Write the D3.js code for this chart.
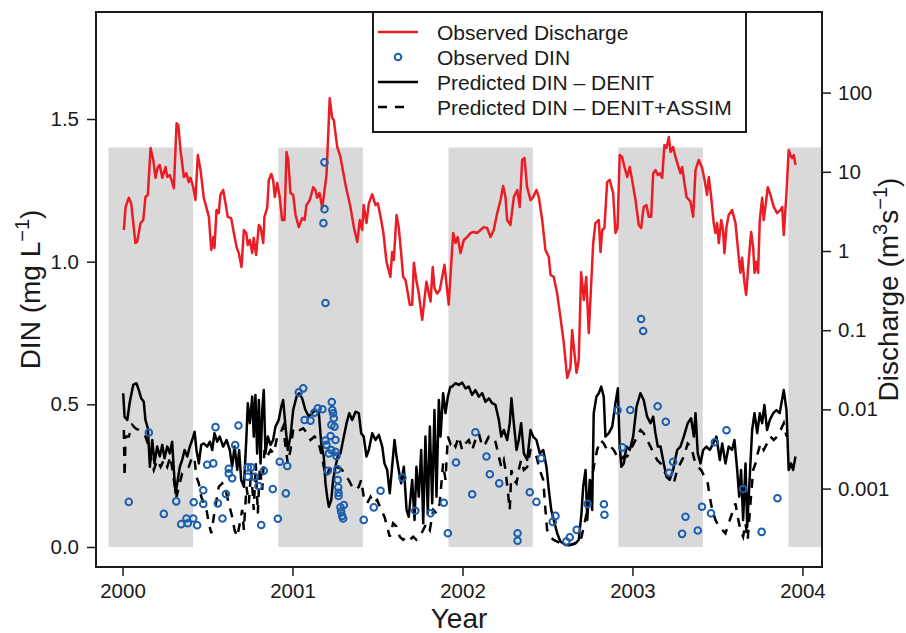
<!DOCTYPE html>
<html>
<head>
<meta charset="utf-8">
<script src="https://cdn.jsdelivr.net/npm/d3@7"></script>
<style>
  body { margin: 0; background: #fff; }
  svg { font-family: 'Liberation Sans', Arial, Helvetica, sans-serif; }
</style>
</head>
<body>
<div id="chart"></div>
<script>
// winter/spring periods (Dec 1 - Jun 1), decimal years
const bandStart = [1999.917, 2000.917, 2001.917, 2002.917, 2003.917]
const bandEnd = [2000.415, 2001.414, 2002.414, 2003.414, 2004.415]

const yearTicks = [2000, 2001, 2002, 2003, 2004]
const dinTicks = [0, 0.5, 1.0, 1.5]
const qTicks = [0.001, 0.01, 0.1, 1, 10, 100]

// observed discharge, m3/s  [year, Q]
const discharge = [
  [2000.008,1.84],[2000.018,3.6],[2000.037,4.7],[2000.051,4.0],[2000.076,1.26],[2000.086,1.3],[2000.106,2.25],[2000.122,2.46],
  [2000.135,4.8],[2000.149,5.1],[2000.165,20],[2000.181,14.1],[2000.194,8.4],[2000.208,11.5],[2000.219,12.2],[2000.234,8.4],
  [2000.253,11.5],[2000.263,8.6],[2000.278,9.1],[2000.288,7.9],[2000.302,6.2],[2000.318,41],[2000.328,39],[2000.341,18.8],
  [2000.361,8.6],[2000.376,9.6],[2000.39,7.4],[2000.40,8.4],[2000.416,6.4],[2000.429,4.4],[2000.443,16.3],[2000.459,10.5],
  [2000.478,4.7],[2000.494,3.5],[2000.508,2.7],[2000.522,1.03],[2000.534,1.5],[2000.541,1.09],[2000.553,3.3],[2000.566,3.0],
  [2000.576,5.1],[2000.592,5.9],[2000.606,4.0],[2000.619,2.7],[2000.639,2.6],[2000.655,1.69],[2000.671,1.12],[2000.684,0.94],
  [2000.70,0.63],[2000.714,1.84],[2000.728,1.69],[2000.737,1.19],[2000.749,1.38],[2000.763,0.94],[2000.772,1.46],[2000.786,0.89],
  [2000.802,2.13],[2000.812,2.0],[2000.828,1.26],[2000.835,2.7],[2000.851,3.5],[2000.861,7.9],[2000.875,9.4],[2000.886,7.9],
  [2000.896,4.8],[2000.91,7.2],[2000.925,4.8],[2000.939,2.46],[2000.953,2.46],[2000.965,17.8],[2000.975,14.1],[2000.988,5.4],
  [2001.004,5.1],[2001.018,2.85],[2001.037,2.0],[2001.057,2.6],[2001.071,2.46],[2001.082,3.8],[2001.102,4.4],[2001.122,6.4],
  [2001.135,5.9],[2001.145,4.7],[2001.159,5.4],[2001.175,3.5],[2001.2,9.1],[2001.219,85],[2001.233,48],[2001.243,45],
  [2001.263,20.6],[2001.282,15.4],[2001.312,6.8],[2001.341,3.6],[2001.361,2.0],[2001.381,1.3],[2001.396,2.46],[2001.41,1.84],
  [2001.419,3.8],[2001.435,2.25],[2001.449,4.0],[2001.469,5.2],[2001.488,3.8],[2001.502,4.0],[2001.518,2.7],[2001.534,1.74],
  [2001.553,0.73],[2001.576,0.47],[2001.586,0.97],[2001.596,0.77],[2001.612,2.85],[2001.625,2.0],[2001.639,0.94],[2001.651,0.47],
  [2001.665,0.43],[2001.69,0.21],[2001.704,0.21],[2001.714,0.71],[2001.728,0.43],[2001.743,0.29],[2001.763,0.135],[2001.788,0.41],
  [2001.802,0.29],[2001.812,0.23],[2001.825,0.63],[2001.835,0.34],[2001.851,0.29],[2001.866,0.32],[2001.894,0.67],[2001.919,0.21],
  [2001.929,0.47],[2001.945,1.69],[2001.959,1.26],[2001.972,1.5],[2001.988,0.94],[2002.008,1.38],[2002.028,1.5],[2002.047,1.69],
  [2002.066,1.74],[2002.086,1.69],[2002.106,1.84],[2002.125,2.0],[2002.145,1.95],[2002.165,1.5],[2002.184,1.84],[2002.204,3.0],
  [2002.224,4.4],[2002.239,6.6],[2002.253,4.8],[2002.263,2.46],[2002.282,2.13],[2002.302,4.8],[2002.322,5.9],[2002.337,3.6],
  [2002.351,14.1],[2002.365,14.9],[2002.38,6.4],[2002.40,4.4],[2002.416,4.8],[2002.435,5.9],[2002.449,4.8],[2002.469,2.46],
  [2002.488,1.03],[2002.508,0.84],[2002.518,0.5],[2002.537,0.47],[2002.557,0.29],[2002.576,0.147],[2002.596,0.069],[2002.616,0.025],
  [2002.635,0.034],[2002.645,0.1],[2002.655,0.061],[2002.671,0.029],[2002.684,0.042],[2002.698,0.54],[2002.714,0.24],[2002.728,0.47],
  [2002.743,0.092],[2002.769,1.26],[2002.782,2.25],[2002.802,2.46],[2002.812,0.97],[2002.822,1.84],[2002.835,1.95],[2002.851,7.4],
  [2002.866,7.9],[2002.886,5.4],[2002.90,1.69],[2002.912,1.95],[2002.925,16.3],[2002.939,15.4],[2002.953,11.5],[2002.969,8.6],
  [2002.984,11.5],[2002.998,7.9],[2003.018,4.4],[2003.037,2.13],[2003.051,1.95],[2003.066,3.6],[2003.082,3.8],[2003.096,2.7],
  [2003.11,2.7],[2003.122,9.6],[2003.135,10.5],[2003.149,9.1],[2003.16,9.6],[2003.175,8.4],[2003.188,21.8],[2003.2,20],
  [2003.214,27.5],[2003.224,17.8],[2003.239,20.6],[2003.253,15.4],[2003.267,12.2],[2003.282,9.6],[2003.292,11.5],[2003.306,7.2],
  [2003.318,4.8],[2003.341,4.2],[2003.357,2.7],[2003.371,10.5],[2003.39,14.1],[2003.41,11.2],[2003.424,7.9],[2003.439,5.1],
  [2003.449,8.6],[2003.463,4.8],[2003.478,2.25],[2003.488,1.69],[2003.498,2.25],[2003.508,1.26],[2003.522,2.46],[2003.533,1.84],
  [2003.541,0.94],[2003.553,2.0],[2003.566,2.85],[2003.586,3.3],[2003.606,2.25],[2003.625,0.84],[2003.635,0.53],[2003.645,0.82],
  [2003.659,0.39],[2003.669,0.28],[2003.684,0.77],[2003.698,1.74],[2003.71,1.12],[2003.718,0.53],[2003.729,0.73],[2003.739,0.53],
  [2003.749,2.46],[2003.763,4.7],[2003.772,2.46],[2003.782,3.6],[2003.796,6.4],[2003.812,5.1],[2003.831,3.6],[2003.851,3.0],
  [2003.871,3.3],[2003.881,3.6],[2003.89,1.59],[2003.906,5.4],[2003.919,18.8],[2003.929,16.3],[2003.939,14.9],[2003.949,16.3],
  [2003.959,12.2]
]

// predicted DIN, mg/L  [year, DIN]
const denit = [
  [2000.004,0.539],[2000.012,0.457],[2000.028,0.445],[2000.043,0.509],[2000.063,0.568],[2000.082,0.574],[2000.096,0.55],[2000.11,0.521],
  [2000.125,0.509],[2000.135,0.445],[2000.149,0.416],[2000.161,0.281],[2000.175,0.375],[2000.188,0.293],[2000.204,0.352],[2000.219,0.317],
  [2000.234,0.358],[2000.247,0.311],[2000.263,0.352],[2000.278,0.328],[2000.292,0.369],[2000.302,0.27],[2000.312,0.188],[2000.325,0.235],
  [2000.337,0.281],[2000.351,0.305],[2000.365,0.34],[2000.381,0.317],[2000.396,0.352],[2000.41,0.375],[2000.424,0.404],[2000.435,0.34],
  [2000.449,0.293],[2000.463,0.358],[2000.478,0.363],[2000.498,0.352],[2000.514,0.369],[2000.528,0.34],[2000.541,0.399],[2000.557,0.369],
  [2000.572,0.387],[2000.592,0.352],[2000.612,0.375],[2000.631,0.34],[2000.645,0.281],[2000.659,0.352],[2000.675,0.27],[2000.686,0.34],
  [2000.698,0.235],[2000.714,0.211],[2000.729,0.387],[2000.737,0.504],[2000.749,0.434],[2000.763,0.527],[2000.772,0.387],[2000.782,0.533],
  [2000.792,0.328],[2000.802,0.515],[2000.812,0.293],[2000.822,0.48],[2000.831,0.55],[2000.841,0.328],[2000.855,0.387],[2000.871,0.358],
  [2000.886,0.375],[2000.90,0.422],[2000.919,0.445],[2000.934,0.492],[2000.945,0.515],[2000.959,0.422],[2000.972,0.34],[2000.988,0.387],
  [2001.004,0.48],[2001.024,0.527],[2001.039,0.539],[2001.057,0.521],[2001.076,0.48],[2001.096,0.457],[2001.116,0.469],[2001.135,0.48],
  [2001.155,0.469],[2001.169,0.363],[2001.184,0.317],[2001.194,0.223],[2001.204,0.176],[2001.214,0.141],[2001.228,0.165],[2001.239,0.235],
  [2001.253,0.281],[2001.266,0.317],[2001.282,0.328],[2001.302,0.387],[2001.318,0.434],[2001.334,0.469],[2001.351,0.445],[2001.371,0.474],
  [2001.39,0.469],[2001.404,0.399],[2001.419,0.387],[2001.435,0.317],[2001.449,0.34],[2001.469,0.399],[2001.488,0.375],[2001.508,0.393],
  [2001.528,0.352],[2001.541,0.293],[2001.557,0.27],[2001.572,0.188],[2001.586,0.281],[2001.60,0.375],[2001.612,0.317],[2001.625,0.27],
  [2001.639,0.223],[2001.655,0.281],[2001.671,0.13],[2001.684,0.106],[2001.704,0.235],[2001.718,0.095],[2001.729,0.281],[2001.743,0.176],
  [2001.757,0.34],[2001.769,0.083],[2001.782,0.387],[2001.796,0.118],[2001.808,0.422],[2001.822,0.153],[2001.835,0.48],[2001.847,0.176],
  [2001.861,0.515],[2001.871,0.387],[2001.886,0.539],[2001.90,0.469],[2001.914,0.527],[2001.929,0.562],[2001.939,0.562],[2001.959,0.574],
  [2001.978,0.568],[2001.998,0.576],[2002.018,0.556],[2002.037,0.562],[2002.057,0.533],[2002.076,0.55],[2002.096,0.527],[2002.116,0.539],
  [2002.135,0.509],[2002.155,0.521],[2002.175,0.504],[2002.194,0.498],[2002.214,0.445],[2002.228,0.387],[2002.243,0.41],[2002.263,0.375],
  [2002.278,0.434],[2002.288,0.521],[2002.302,0.434],[2002.318,0.34],[2002.331,0.375],[2002.345,0.434],[2002.361,0.328],[2002.381,0.305],
  [2002.40,0.41],[2002.416,0.387],[2002.435,0.375],[2002.455,0.328],[2002.475,0.34],[2002.494,0.281],[2002.508,0.2],[2002.522,0.13],
  [2002.537,0.095],[2002.557,0.048],[2002.576,0.019],[2002.606,0.007],[2002.635,0.007],[2002.665,0.013],[2002.684,0.025],[2002.70,0.118],
  [2002.71,0.211],[2002.724,0.27],[2002.734,0.095],[2002.749,0.235],[2002.763,0.13],[2002.772,0.469],[2002.788,0.527],[2002.802,0.539],
  [2002.816,0.562],[2002.831,0.527],[2002.841,0.387],[2002.861,0.399],[2002.881,0.422],[2002.90,0.504],[2002.914,0.556],[2002.925,0.352],
  [2002.935,0.281],[2002.949,0.293],[2002.965,0.352],[2002.984,0.34],[2003.004,0.387],[2003.024,0.492],[2003.047,0.539],[2003.066,0.515],
  [2003.086,0.457],[2003.106,0.434],[2003.122,0.457],[2003.135,0.399],[2003.149,0.352],[2003.165,0.352],[2003.184,0.293],[2003.20,0.246],
  [2003.219,0.235],[2003.239,0.27],[2003.263,0.34],[2003.282,0.352],[2003.302,0.387],[2003.325,0.434],[2003.345,0.451],[2003.361,0.387],
  [2003.371,0.469],[2003.384,0.328],[2003.40,0.293],[2003.416,0.34],[2003.435,0.352],[2003.455,0.34],[2003.475,0.363],[2003.494,0.387],
  [2003.514,0.305],[2003.528,0.363],[2003.547,0.293],[2003.566,0.352],[2003.586,0.34],[2003.60,0.375],[2003.616,0.27],[2003.628,0.176],
  [2003.639,0.27],[2003.651,0.095],[2003.665,0.293],[2003.675,0.071],[2003.69,0.246],[2003.704,0.41],[2003.718,0.469],[2003.734,0.399],
  [2003.749,0.469],[2003.763,0.434],[2003.776,0.498],[2003.792,0.41],[2003.808,0.445],[2003.828,0.469],[2003.847,0.48],[2003.866,0.469],
  [2003.89,0.55],[2003.906,0.48],[2003.919,0.27],[2003.933,0.293],[2003.945,0.27],[2003.959,0.317]
]

const denitAssim = [
  [2000.008,0.41],[2000.012,0.246],[2000.018,0.387],[2000.037,0.387],[2000.057,0.428],[2000.076,0.416],[2000.096,0.41],[2000.116,0.399],
  [2000.135,0.387],[2000.155,0.352],[2000.169,0.305],[2000.184,0.27],[2000.204,0.305],[2000.224,0.281],[2000.243,0.305],[2000.263,0.281],
  [2000.282,0.317],[2000.302,0.235],[2000.318,0.176],[2000.331,0.211],[2000.351,0.258],[2000.371,0.27],[2000.39,0.281],[2000.41,0.317],
  [2000.424,0.305],[2000.435,0.246],[2000.449,0.223],[2000.463,0.176],[2000.478,0.153],[2000.494,0.13],[2000.508,0.083],[2000.522,0.048],
  [2000.537,0.106],[2000.553,0.165],[2000.566,0.211],[2000.586,0.223],[2000.606,0.2],[2000.625,0.153],[2000.645,0.106],[2000.659,0.06],
  [2000.675,0.036],[2000.69,0.083],[2000.704,0.13],[2000.714,0.06],[2000.729,0.211],[2000.743,0.153],[2000.757,0.27],[2000.772,0.13],
  [2000.784,0.293],[2000.796,0.118],[2000.808,0.281],[2000.822,0.2],[2000.835,0.34],[2000.851,0.317],[2000.871,0.34],[2000.89,0.328],
  [2000.91,0.387],[2000.929,0.399],[2000.945,0.422],[2000.959,0.352],[2000.972,0.293],[2000.988,0.34],[2001.004,0.41],[2001.024,0.422],
  [2001.043,0.41],[2001.063,0.416],[2001.086,0.399],[2001.106,0.375],[2001.129,0.387],[2001.149,0.375],[2001.169,0.328],[2001.184,0.281],
  [2001.20,0.246],[2001.214,0.27],[2001.234,0.281],[2001.253,0.27],[2001.272,0.281],[2001.292,0.27],[2001.312,0.246],[2001.331,0.235],
  [2001.351,0.211],[2001.371,0.2],[2001.39,0.211],[2001.404,0.235],[2001.419,0.176],[2001.439,0.153],[2001.459,0.176],[2001.478,0.153],
  [2001.498,0.165],[2001.522,0.13],[2001.541,0.106],[2001.557,0.071],[2001.572,0.036],[2001.592,0.083],[2001.612,0.071],[2001.631,0.036],
  [2001.651,0.025],[2001.671,0.036],[2001.69,0.025],[2001.71,0.036],[2001.729,0.025],[2001.749,0.036],[2001.769,0.06],[2001.788,0.083],
  [2001.808,0.06],[2001.828,0.13],[2001.847,0.118],[2001.866,0.153],[2001.886,0.293],[2001.90,0.235],[2001.914,0.387],[2001.929,0.363],
  [2001.939,0.375],[2001.959,0.352],[2001.978,0.387],[2001.998,0.34],[2002.018,0.363],[2002.037,0.375],[2002.057,0.34],[2002.076,0.375],
  [2002.096,0.399],[2002.116,0.352],[2002.135,0.363],[2002.155,0.387],[2002.175,0.387],[2002.194,0.369],[2002.214,0.317],[2002.228,0.281],
  [2002.243,0.305],[2002.253,0.27],[2002.266,0.2],[2002.278,0.13],[2002.288,0.27],[2002.302,0.235],[2002.318,0.223],[2002.331,0.27],
  [2002.345,0.305],[2002.361,0.27],[2002.381,0.281],[2002.40,0.34],[2002.416,0.34],[2002.435,0.317],[2002.455,0.27],[2002.475,0.235],
  [2002.488,0.13],[2002.498,0.06],[2002.514,0.036],[2002.537,0.025],[2002.557,0.019],[2002.576,0.013],[2002.606,0.007],[2002.635,0.007],
  [2002.665,0.013],[2002.694,0.019],[2002.714,0.071],[2002.734,0.13],[2002.749,0.176],[2002.763,0.246],[2002.776,0.293],[2002.792,0.34],
  [2002.812,0.375],[2002.831,0.363],[2002.851,0.34],[2002.871,0.352],[2002.89,0.34],[2002.91,0.317],[2002.929,0.305],[2002.949,0.317],
  [2002.969,0.317],[2002.988,0.34],[2003.008,0.363],[2003.027,0.387],[2003.047,0.41],[2003.066,0.399],[2003.086,0.375],[2003.106,0.352],
  [2003.125,0.328],[2003.145,0.305],[2003.165,0.293],[2003.184,0.27],[2003.204,0.246],[2003.224,0.235],[2003.243,0.223],[2003.263,0.27],
  [2003.282,0.293],[2003.302,0.317],[2003.325,0.363],[2003.345,0.352],[2003.365,0.305],[2003.384,0.281],[2003.404,0.27],[2003.424,0.246],
  [2003.443,0.223],[2003.455,0.176],[2003.469,0.13],[2003.488,0.095],[2003.508,0.071],[2003.528,0.06],[2003.547,0.048],[2003.566,0.083],
  [2003.586,0.118],[2003.606,0.153],[2003.619,0.106],[2003.635,0.06],[2003.651,0.036],[2003.665,0.083],[2003.678,0.025],[2003.694,0.153],
  [2003.71,0.27],[2003.724,0.293],[2003.737,0.328],[2003.753,0.363],[2003.772,0.34],[2003.792,0.363],[2003.812,0.387],[2003.831,0.375],
  [2003.851,0.387],[2003.871,0.41],[2003.89,0.434],[2003.906,0.387]
]

// observed DIN samples, mg/L  [year, DIN]
const observed = [
  [2000.037,0.158],[2000.155,0.401],[2000.243,0.116],[2000.316,0.16],[2000.345,0.08],[2000.376,0.1],[2000.384,0.083],[2000.416,0.1],
  [2000.419,0.157],[2000.439,0.076],[2000.475,0.151],[2000.475,0.199],[2000.498,0.288],[2000.534,0.293],[2000.547,0.42],[2000.561,0.153],
  [2000.588,0.1],[2000.608,0.186],[2000.625,0.274],[2000.625,0.258],[2000.645,0.241],[2000.663,0.357],[2000.682,0.426],[2000.737,0.279],
  [2000.757,0.279],[2000.737,0.246],[2000.776,0.246],[2000.80,0.214],[2000.816,0.077],[2000.831,0.267],[2000.884,0.203],[2000.914,0.099],
  [2000.925,0.299],[2000.961,0.188],[2000.969,0.284],[2001.037,0.542],[2001.063,0.556],[2001.071,0.445],[2001.106,0.443],[2001.129,0.471],
  [2001.149,0.486],[2001.176,0.483],[2001.188,1.348],[2001.188,1.184],[2001.182,1.135],[2001.194,0.855],[2001.231,0.508],[2001.234,0.48],
  [2001.239,0.469],[2001.243,0.451],[2001.229,0.428],[2001.247,0.422],[2001.224,0.389],[2001.253,0.375],[2001.194,0.373],[2001.20,0.358],
  [2001.228,0.34],[2001.214,0.328],[2001.253,0.334],[2001.259,0.319],[2001.208,0.267],[2001.263,0.272],[2001.266,0.235],[2001.269,0.209],
  [2001.271,0.19],[2001.271,0.179],[2001.282,0.139],[2001.302,0.147],[2001.286,0.124],[2001.292,0.109],[2001.298,0.1],[2001.419,0.095],
  [2001.478,0.139],[2001.518,0.197],[2001.647,0.243],[2001.722,0.127],[2001.812,0.118],[2001.89,0.155],[2001.914,0.048],[2001.962,0.296],
  [2002.057,0.185],[2002.076,0.402],[2002.141,0.317],[2002.161,0.255],[2002.216,0.223],[2002.324,0.048],[2002.324,0.022],[2002.396,0.192],
  [2002.435,0.158],[2002.463,0.311],[2002.531,0.088],[2002.547,0.109],[2002.611,0.019],[2002.631,0.034],[2002.672,0.06],[2002.736,0.151],
  [2002.832,0.15],[2002.835,0.113],[2002.912,0.479],[2002.941,0.349],[2002.987,0.48],[2003.051,0.799],[2003.063,0.757],[2003.148,0.493],
  [2003.196,0.439],[2003.216,0.26],[2003.239,0.299],[2003.292,0.046],[2003.312,0.106],[2003.384,0.058],[2003.409,0.141],[2003.462,0.118],
  [2003.484,0.367],[2003.553,0.409],[2003.651,0.203],[2003.76,0.053],[2003.853,0.171]
]

const legendItems = ['Observed Discharge', 'Observed DIN', 'Predicted DIN \u2013 DENIT', 'Predicted DIN \u2013 DENIT+ASSIM']

const width = 906
const height = 633
const [plotLeft, plotRight, plotTop, plotBottom] = [96, 822, 12, 567]

const red = '#ec1c24'
const blue = '#1c5fae'
const ink = '#1a1a1a'

const svg = d3.select('#chart')
  .append('svg')
  .attr('width', width)
  .attr('height', height)

const x = d3.scaleLinear().domain([1999.844, 2004.115]).range([plotLeft, plotRight])
const yDin = d3.scaleLinear().domain([-0.0701, 1.875]).range([plotBottom, plotTop])
const yQ = d3.scaleLog().domain([1.023e-4, 1042]).range([plotBottom, plotTop])

svg.append('clipPath')
  .attr('id', 'plot-clip')
  .append('rect')
  .attr('x', plotLeft)
  .attr('y', plotTop)
  .attr('width', plotRight - plotLeft)
  .attr('height', plotBottom - plotTop)

const plot = svg.append('g').attr('clip-path', 'url(#plot-clip)')

// shaded periods
plot.append('g').selectAll('rect')
  .data(bandStart)
  .join('rect')
  .attr('x', d => x(d))
  .attr('width', (d, i) => x(bandEnd[i]) - x(d))
  .attr('y', yDin(1.4))
  .attr('height', yDin(0) - yDin(1.4))
  .attr('fill', '#d9d9d9')

const qLine = d3.line().x(d => x(d[0])).y(d => yQ(d[1]))
const dinLine = d3.line().x(d => x(d[0])).y(d => yDin(d[1]))

plot.append('path')
  .datum(discharge)
  .attr('d', qLine)
  .attr('fill', 'none')
  .attr('stroke', red)
  .attr('stroke-width', 2.5)
  .attr('stroke-linejoin', 'round')

plot.append('path')
  .datum(denitAssim)
  .attr('d', dinLine)
  .attr('fill', 'none')
  .attr('stroke', '#000')
  .attr('stroke-width', 2.5)
  .attr('stroke-dasharray', '9,8')

plot.append('path')
  .datum(denit)
  .attr('d', dinLine)
  .attr('fill', 'none')
  .attr('stroke', '#000')
  .attr('stroke-width', 2.5)
  .attr('stroke-linejoin', 'round')

plot.append('g').selectAll('circle')
  .data(observed)
  .join('circle')
  .attr('cx', d => x(d[0]))
  .attr('cy', d => yDin(d[1]))
  .attr('r', 3.3)
  .attr('fill', 'none')
  .attr('stroke', blue)
  .attr('stroke-width', 2)

// axes
const styleAxis = (g, size) => {
  g.select('.domain').remove()
  g.selectAll('.tick line').attr('stroke', ink).attr('stroke-width', 1.5)
  g.selectAll('.tick text')
    .attr('fill', ink)
    .style('font-size', `${size}px`)
    .style('font-family', "'Liberation Sans', Arial, sans-serif")
}

svg.append('g')
  .attr('transform', `translate(${plotLeft},0)`)
  .call(d3.axisLeft(yDin).tickValues(dinTicks).tickFormat(d3.format('.1f')).tickSize(9).tickPadding(8))
  .call(g => styleAxis(g, 20.5))

svg.append('g')
  .attr('transform', `translate(${plotRight},0)`)
  .call(d3.axisRight(yQ).tickValues(qTicks).tickFormat(d => String(d)).tickSize(9).tickPadding(7))
  .call(g => styleAxis(g, 20.5))

svg.append('g')
  .attr('transform', `translate(0,${plotBottom})`)
  .call(d3.axisBottom(x).tickValues(yearTicks).tickFormat(d3.format('d')).tickSize(9).tickPadding(7))
  .call(g => styleAxis(g, 20.5))

// frame
svg.append('rect')
  .attr('x', plotLeft)
  .attr('y', plotTop)
  .attr('width', plotRight - plotLeft)
  .attr('height', plotBottom - plotTop)
  .attr('fill', 'none')
  .attr('stroke', ink)
  .attr('stroke-width', 2)

// axis titles
svg.append('text')
  .attr('x', (plotLeft + plotRight) / 2)
  .attr('y', 628)
  .attr('text-anchor', 'middle')
  .attr('fill', ink)
  .style('font-size', '28px')
  .text('Year')

const leftTitle = svg.append('text')
  .attr('transform', `translate(40,${(plotTop + plotBottom) / 2}) rotate(-90)`)
  .attr('text-anchor', 'middle')
  .attr('fill', ink)
  .style('font-size', '28px')
leftTitle.append('tspan').text('DIN (mg L')
leftTitle.append('tspan').attr('dy', -11).style('font-size', '20px').text('\u22121')
leftTitle.append('tspan').attr('dy', 11).text(')')

const rightTitle = svg.append('text')
  .attr('transform', `translate(898,${(plotTop + plotBottom) / 2}) rotate(-90)`)
  .attr('text-anchor', 'middle')
  .attr('fill', ink)
  .style('font-size', '28px')
rightTitle.append('tspan').text('Discharge (m')
rightTitle.append('tspan').attr('dy', -11).style('font-size', '20px').text('3')
rightTitle.append('tspan').attr('dy', 11).text('s')
rightTitle.append('tspan').attr('dy', -11).style('font-size', '20px').text('\u22121')
rightTitle.append('tspan').attr('dy', 11).text(')')

// legend
const legend = svg.append('g').attr('transform', 'translate(373,12)')

legend.append('rect')
  .attr('width', 373)
  .attr('height', 120)
  .attr('fill', '#fff')
  .attr('stroke', ink)
  .attr('stroke-width', 2)

const row = i => 20 + i * 25

legend.append('line')
  .attr('x1', 5).attr('x2', 45).attr('y1', row(0)).attr('y2', row(0))
  .attr('stroke', red).attr('stroke-width', 2.5)

legend.append('circle')
  .attr('cx', 25).attr('cy', row(1)).attr('r', 3.3)
  .attr('fill', 'none').attr('stroke', blue).attr('stroke-width', 2)

legend.append('line')
  .attr('x1', 5).attr('x2', 45).attr('y1', row(2)).attr('y2', row(2))
  .attr('stroke', '#000').attr('stroke-width', 2.5)

legend.append('line')
  .attr('x1', 5).attr('x2', 34).attr('y1', row(3)).attr('y2', row(3))
  .attr('stroke', '#000').attr('stroke-width', 2.5).attr('stroke-dasharray', '9,8')

legend.selectAll('text.item')
  .data(legendItems)
  .join('text')
  .attr('class', 'item')
  .attr('x', 64)
  .attr('y', (d, i) => row(i))
  .attr('dy', '0.36em')
  .attr('fill', ink)
  .style('font-size', '21px')
  .text(d => d)
</script>
</body>
</html>
